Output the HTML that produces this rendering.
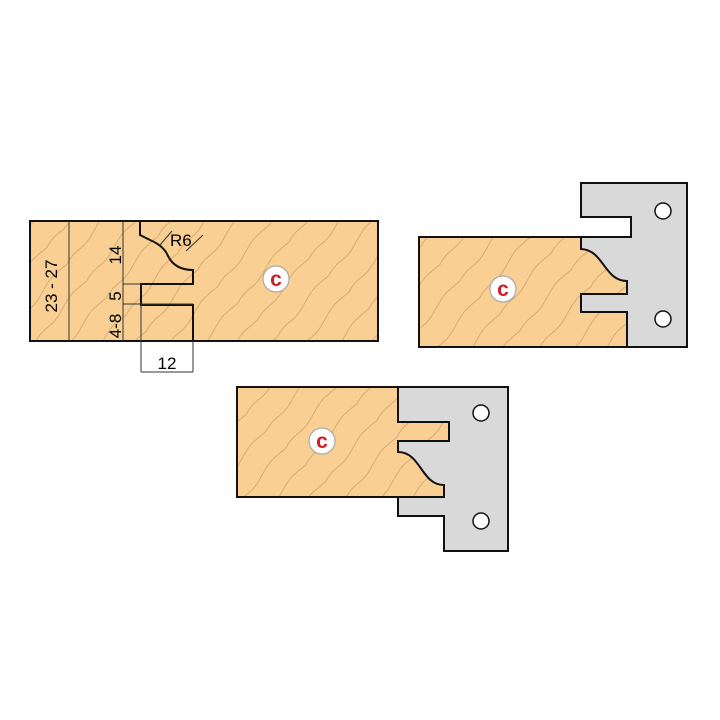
<!DOCTYPE html>
<html><head><meta charset="utf-8"><style>html,body{margin:0;padding:0;background:#fff}svg{display:block}</style></head><body>
<svg width="720" height="720" viewBox="0 0 720 720" xmlns="http://www.w3.org/2000/svg" font-family="Liberation Sans, sans-serif">
<defs>
<pattern id="g" width="80" height="26" patternUnits="userSpaceOnUse" patternTransform="rotate(-50)">
<rect width="80" height="26" fill="#f9cf93"/>
<path d="M0 13 C20 9 20 17 40 13 S60 9 80 13" stroke="#c9a06a" stroke-width="0.8" fill="none"/>
</pattern>
<g id="logo"><circle r="13" fill="#fff" stroke="#aaa" stroke-width="1.2"/><text x="0" y="7" text-anchor="middle" font-size="21" font-weight="bold" fill="#d21f26">c</text></g>
</defs>

<!-- Diagram 1 -->
<rect x="30" y="221" width="348" height="120" fill="url(#g)" stroke="#111" stroke-width="2"/>
<path d="M140 221 V235 L150 240 Q164 246 168 256 Q175 270 193 270 V284 H141 V305 H193 V341" fill="none" stroke="#111" stroke-width="2"/>
<g stroke="#333" stroke-width="1" fill="none">
<line x1="69" y1="221" x2="69" y2="341"/><line x1="123" y1="221" x2="123" y2="341"/>
<line x1="123" y1="284" x2="141" y2="284"/><line x1="123" y1="304" x2="193" y2="304"/>
<line x1="141" y1="305" x2="141" y2="372"/><line x1="193" y1="341" x2="193" y2="372"/>
<line x1="141" y1="372" x2="193" y2="372"/>
<line x1="160" y1="245" x2="172" y2="231"/><line x1="186" y1="251" x2="203" y2="235"/>
</g>
<text x="167" y="369" text-anchor="middle" font-size="17">12</text>
<text x="170" y="246" font-size="17">R6</text>
<text transform="translate(57,286) rotate(-90)" text-anchor="middle" font-size="17">23 - 27</text>
<text transform="translate(121,255) rotate(-90)" text-anchor="middle" font-size="17">14</text>
<text transform="translate(121,296) rotate(-90)" text-anchor="middle" font-size="17">5</text>
<text transform="translate(121,326) rotate(-90)" text-anchor="middle" font-size="17">4-8</text>
<use href="#logo" x="276" y="279"/>

<!-- Diagram 2 -->
<path d="M581 183 H687 V347 H581 V237 H631 V217 H581 Z" fill="#d9d9da" stroke="#111" stroke-width="2"/>
<path d="M419 237 H581 V249 C604 250 604 281 627 281 V294 H581 V312 H627 V347 H419 Z" fill="url(#g)" stroke="#111" stroke-width="2"/>
<circle cx="663" cy="211" r="8" fill="#fff" stroke="#111" stroke-width="1.5"/>
<circle cx="663" cy="319" r="8" fill="#fff" stroke="#111" stroke-width="1.5"/>
<use href="#logo" x="503" y="289"/>

<!-- Diagram 3 -->
<path d="M398 387 H508 V551 H444 V516 H398 Z" fill="#d9d9da" stroke="#111" stroke-width="2"/>
<path d="M237 387 H398 V422 H449 V441 H398 V452 C421 452 421 485 444 485 V497 H237 Z" fill="url(#g)" stroke="#111" stroke-width="2"/>
<circle cx="481" cy="413" r="8" fill="#fff" stroke="#111" stroke-width="1.5"/>
<circle cx="481" cy="521" r="8" fill="#fff" stroke="#111" stroke-width="1.5"/>
<use href="#logo" x="322" y="441"/>
</svg>
</body></html>
